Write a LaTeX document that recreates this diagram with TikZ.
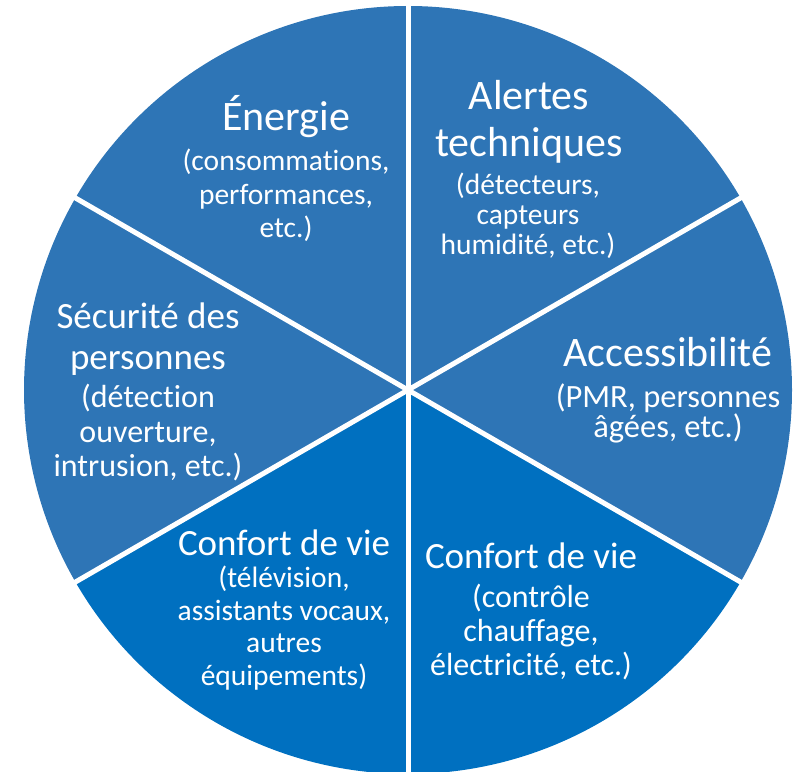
\documentclass[tikz,border=0pt]{standalone}
\usepackage{fontspec}
\setmainfont{Carlito}[Ligatures={NoCommon,NoContextual}]
\definecolor{sliceblue}{RGB}{46, 117, 182}
\definecolor{comfortblue}{RGB}{0, 112, 192}
\usetikzlibrary{positioning, calc}

\begin{document}
\begin{tikzpicture}[
  x=1pt, y=1pt,
  slicetext/.style n args={2}{text=white, align=center, inner sep=0pt, anchor=base, font=\fontsize{#1}{#2}\selectfont},
  separator/.style={draw=white, line width=5pt}
]
  \useasboundingbox (0, 0) rectangle (794, 771);
  \coordinate (O) at (408, 381);

  % Slices
  \foreach \a/\col in {-30/sliceblue, 30/sliceblue, 90/sliceblue, 150/sliceblue, 210/comfortblue, 270/comfortblue}
    \fill[\col] (O) -- ++(\a:384) arc[start angle=\a, end angle=\a+60, radius=384] -- cycle;

  % Separators
  \foreach \a in {30, 90, 150, 210, 270, 330}
    \draw[separator] (O) -- ++(\a:392);

  % Labels
  \node[slicetext={42}{46}] (energie) at (286, 640) {Énergie};
  \node[slicetext={29.5}{33.5}] (energieSub) at (286, 533) {(consommations,\\performances,\\etc.)};

  \node[slicetext={42}{47}] (alertes) at (529, 614) {Alertes\\techniques};
  \node[slicetext={29.5}{30}] (alertesSub) at (528, 516) {(détecteurs,\\capteurs\\humidité, etc.)};

  \node[slicetext={42}{46}] (access) at (668, 404) {Accessibilité};
  \node[slicetext={32.5}{30.5}] (accessSub) at (668, 333) {(PMR, personnes\\âgées, etc.)};

  \node[slicetext={37}{41}] (securite) at (148, 401) {Sécurité des\\personnes};
  \node[slicetext={32}{34.5}] (securiteSub) at (148, 294) {(détection\\ouverture,\\intrusion, etc.)};

  \node[slicetext={37}{41}] (confortA) at (284, 216) {Confort de vie};
  \node[slicetext={29.5}{32.5}] (confortASub) at (284, 86) {(télévision,\\assistants vocaux,\\autres\\équipements)};

  \node[slicetext={37}{41}] (confortB) at (531, 203) {Confort de vie};
  \node[slicetext={32}{34}] (confortBSub) at (531, 96) {(contrôle\\chauffage,\\électricité, etc.)};
\end{tikzpicture}
\end{document}
